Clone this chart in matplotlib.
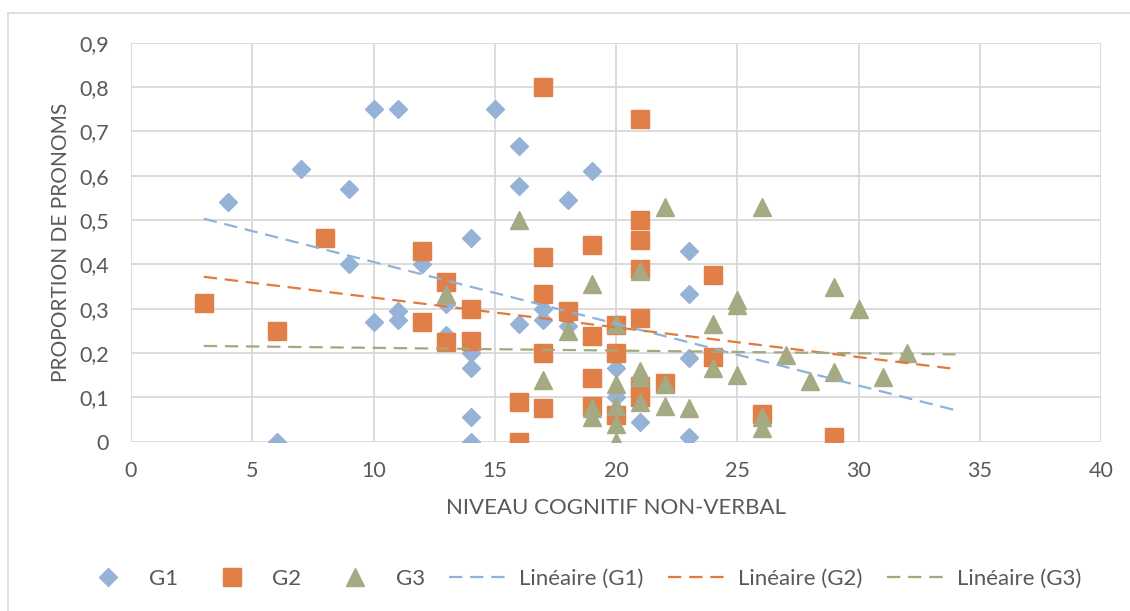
import matplotlib
matplotlib.use("Agg")
import matplotlib.pyplot as plt
from matplotlib.lines import Line2D
from matplotlib.ticker import FuncFormatter

plt.rcParams['font.family'] = ['Lato', 'DejaVu Sans']

# G1 (diamonds)
g1_x = [4, 6, 7, 9, 9, 10, 10, 11, 11, 11, 12, 13, 13, 14, 14, 14, 14, 14,
        15, 16, 16, 16, 17, 17, 18, 18, 19, 20, 20, 21, 23, 23, 23, 23]
g1_y = [0.54, 0.0, 0.615, 0.57, 0.40, 0.75, 0.27, 0.75, 0.295, 0.275, 0.40, 0.31, 0.24,
        0.46, 0.20, 0.167, 0.055, 0.0, 0.75, 0.667, 0.577, 0.265, 0.30, 0.275,
        0.545, 0.26, 0.61, 0.167, 0.10, 0.045, 0.43, 0.333, 0.188, 0.01]

# G2 (squares)
g2_x = [3, 6, 8, 12, 12, 13, 13, 14, 14, 16, 16, 17, 17, 17, 17, 17, 18,
        19, 19, 19, 19, 20, 20, 20, 21, 21, 21, 21, 21, 21, 21, 22, 24, 24, 26, 29]
g2_y = [0.312, 0.25, 0.46, 0.43, 0.27, 0.36, 0.225, 0.30, 0.227, 0.09, 0.0,
        0.80, 0.417, 0.333, 0.20, 0.075, 0.294, 0.444, 0.238, 0.143, 0.08,
        0.263, 0.20, 0.06, 0.727, 0.50, 0.455, 0.39, 0.28, 0.125, 0.10, 0.133,
        0.375, 0.19, 0.063, 0.01]

# G3 (triangles)
g3_x = [13, 16, 17, 18, 19, 19, 19, 20, 20, 20, 20, 20, 21, 21, 21, 21,
        22, 22, 22, 23, 24, 24, 25, 25, 25, 26, 26, 26, 27, 28, 29, 29, 30, 31, 32]
g3_y = [0.333, 0.50, 0.14, 0.25, 0.355, 0.077, 0.056, 0.265, 0.13, 0.08, 0.04, 0.0,
        0.385, 0.16, 0.145, 0.09, 0.53, 0.13, 0.08, 0.075, 0.265, 0.167,
        0.32, 0.308, 0.15, 0.53, 0.055, 0.03, 0.195, 0.136, 0.35, 0.157, 0.30,
        0.146, 0.20]

# linear trendlines (value at x=3 and x=34)
trend_x = [3, 34]
trend_g1 = [0.503, 0.071]
trend_g2 = [0.372, 0.164]
trend_g3 = [0.216, 0.197]

y_ticks = [0, 0.1, 0.2, 0.3, 0.4, 0.5, 0.6, 0.7, 0.8, 0.9]
x_ticks = [0, 5, 10, 15, 20, 25, 30, 35, 40]

c1, c2, c3 = '#95B3D7', '#E07F47', '#A5AA82'
l1, l2, l3 = '#8DB3DB', '#E27A3C', '#A3A97B'
txt = '#595959'
grid_c = '#D9D9D9'

fig = plt.figure(figsize=(11.3, 6.11), dpi=100)
ax = fig.add_axes([131/1130, 1 - 441.7/611, 970/1130, 399/611])

# chart border (partially visible in the reference)
fig.add_artist(Line2D([7.5/1130, 1], [1 - 12.5/611] * 2, color=grid_c, lw=1.2))
fig.add_artist(Line2D([7.5/1130] * 2, [0, 1 - 12.5/611], color=grid_c, lw=1.2))

ax.plot(g1_x, g1_y, linestyle='none', marker='D', ms=9.3, color=c1, label='G1', zorder=3)
ax.plot(g2_x, g2_y, linestyle='none', marker='s', ms=12.5, color=c2, label='G2', zorder=3)
ax.plot(g3_x, g3_y, linestyle='none', marker='^', ms=12.5, color=c3, label='G3', zorder=3)

for ys, col, name in [(trend_g1, l1, 'Linéaire (G1)'),
                      (trend_g2, l2, 'Linéaire (G2)'),
                      (trend_g3, l3, 'Linéaire (G3)')]:
    ax.plot(trend_x, ys, color=col, lw=1.6, dashes=(6, 3.5), label=name, zorder=4)

ax.set_xlim(0, 40)
ax.set_ylim(0, 0.9)
ax.set_xticks(x_ticks)
ax.set_yticks(y_ticks)
ax.yaxis.set_major_formatter(FuncFormatter(lambda v, p: '0' if v == 0 else f'{v:.1f}'.replace('.', ',')))
ax.grid(True, color=grid_c, lw=1.3)
ax.set_axisbelow(True)
for s in ax.spines.values():
    s.set_visible(False)
ax.tick_params(length=0, labelsize=15.5, colors=txt)
ax.tick_params(axis='y', pad=16)
ax.tick_params(axis='x', pad=14)

ax.set_xlabel('NIVEAU COGNITIF NON-VERBAL', fontsize=16, color=txt, labelpad=12)
ax.set_ylabel('PROPORTION DE PRONOMS', fontsize=15, color=txt)
ax.yaxis.set_label_coords(-0.062, 0.5)

fig.legend(loc='center', bbox_to_anchor=(580/1130, 1 - 579/611), ncol=6, frameon=False,
           fontsize=16, labelcolor=txt, handlelength=2.65, handletextpad=0.5,
           columnspacing=1.1)

fig.savefig('out.png', dpi=100)
